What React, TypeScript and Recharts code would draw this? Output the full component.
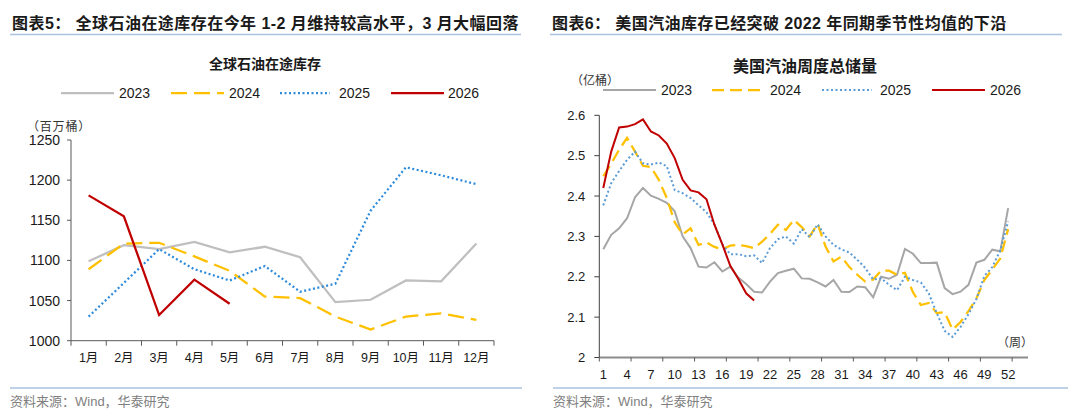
import React from 'react';
import { LineChart, Line, XAxis, YAxis } from 'recharts';

// ---- left panel: global oil on water (million barrels), monthly ----
const MONTHS = ['1月', '2月', '3月', '4月', '5月', '6月', '7月', '8月', '9月', '10月', '11月', '12月'];
const MONTH_NUMS = [1, 2, 3, 4, 5, 6, 7, 8, 9, 10, 11, 12];
const TRANSIT_2023 = [1099, 1119, 1114, 1123, 1110, 1117, 1104, 1048, 1051, 1075, 1074, 1121];
const TRANSIT_2024 = [1089, 1121, 1122, 1105, 1087, 1055, 1053, 1030, 1014, 1030, 1034, 1026];
const TRANSIT_2025 = [1030, 1072, 1114, 1089, 1075, 1093, 1061, 1071, 1162, 1216, 1206, 1195];
const TRANSIT_2026 = [1181, 1155, 1032, 1076, 1046];
const TRANSIT_TICKS = [1000, 1050, 1100, 1150, 1200, 1250];

// ---- right panel: US weekly gasoline stocks (100m barrels) ----
const WEEK_NUMS = Array.from({ length: 52 }, (_, i) => i + 1);
const WEEK_LABELS = [1, 4, 7, 10, 13, 16, 19, 22, 25, 28, 31, 34, 37, 40, 43, 46, 49, 52];
const GAS_2023 = [
  2.268, 2.304, 2.32, 2.345, 2.397, 2.42, 2.401, 2.393, 2.383, 2.362, 2.3, 2.271, 2.225,
  2.223, 2.236, 2.213, 2.225, 2.198, 2.182, 2.163, 2.161, 2.188, 2.209, 2.215, 2.22, 2.196,
  2.195, 2.186, 2.176, 2.192, 2.163, 2.162, 2.176, 2.174, 2.149, 2.2, 2.195, 2.205, 2.269,
  2.257, 2.234, 2.234, 2.235, 2.172, 2.157, 2.163, 2.18, 2.235, 2.242, 2.267, 2.263, 2.37,
];
const GAS_2024 = [
  2.449, 2.48, 2.515, 2.544, 2.51, 2.475, 2.472, 2.44, 2.395, 2.335, 2.305, 2.32, 2.279,
  2.285, 2.274, 2.268, 2.277, 2.279, 2.276, 2.271, 2.287, 2.306, 2.329, 2.316, 2.341, 2.323,
  2.3, 2.331, 2.275, 2.238, 2.25, 2.224, 2.205, 2.188, 2.193, 2.215, 2.215, 2.205, 2.21,
  2.162, 2.13, 2.135, 2.11, 2.112, 2.069, 2.088, 2.115, 2.146, 2.192, 2.218, 2.245, 2.318,
];
const GAS_2025 = [
  2.377, 2.432, 2.462, 2.49, 2.51, 2.481, 2.478, 2.483, 2.474, 2.415, 2.407, 2.395, 2.377,
  2.36, 2.33, 2.28, 2.256, 2.256, 2.251, 2.253, 2.234, 2.271, 2.293, 2.3, 2.282, 2.318,
  2.298, 2.33, 2.3, 2.279, 2.268, 2.26, 2.242, 2.222, 2.193, 2.196, 2.18, 2.167, 2.2,
  2.192, 2.186, 2.159, 2.11, 2.066, 2.051, 2.076, 2.107, 2.145, 2.202, 2.224, 2.265, 2.337,
];
const GAS_2026 = [
  2.42, 2.51, 2.57, 2.572, 2.578, 2.59, 2.56, 2.55, 2.53, 2.494, 2.44, 2.414, 2.409,
  2.392, 2.329, 2.28, 2.227, 2.195, 2.159, 2.141,
];
const GAS_TICKS = [2, 2.1, 2.2, 2.3, 2.4, 2.5, 2.6];

const YEARS = ['2023', '2024', '2025', '2026'];

const SANS = "'Liberation Sans', Arial, 'Noto Sans CJK SC', sans-serif";
const CJK = "'Noto Sans CJK SC', 'Liberation Sans', sans-serif";
const TEXT = '#1a1a1a';
const RULE = '#a9c2df';

const leftStyles = [
  { color: '#bfbfbf', dash: undefined as string | undefined, width: 2.25 },
  { color: '#ffc000', dash: '16 7', width: 2.25 },
  { color: '#2e8bdb', dash: '2 2.5', width: 2.25 },
  { color: '#c00000', dash: undefined as string | undefined, width: 2.25 },
];
const rightStyles = [
  { color: '#a6a6a6', dash: undefined as string | undefined, width: 2 },
  { color: '#ffc000', dash: '12 6', width: 2.25 },
  { color: '#5b9bd5', dash: '2 2.5', width: 2 },
  { color: '#c00000', dash: undefined as string | undefined, width: 2 },
];

const leftData = MONTH_NUMS.map((m, i) => ({
  m,
  y2023: TRANSIT_2023[i],
  y2024: TRANSIT_2024[i],
  y2025: TRANSIT_2025[i],
  y2026: TRANSIT_2026[i],
}));

const rightData = WEEK_NUMS.map((w, i) => ({
  w,
  y2023: GAS_2023[i],
  y2024: GAS_2024[i],
  y2025: GAS_2025[i],
  y2026: GAS_2026[i],
}));

// label ticks sit on category centres, the short marks on category boundaries
const monthTicks = [0.5, ...MONTH_NUMS.flatMap((m) => [m, m + 0.5])];
const weekTicks = [
  ...WEEK_LABELS,
  ...Array.from({ length: 14 }, (_, i) => i * 4 + 0.5),
].sort((a, b) => a - b);

function boundaryTick(
  labelFor: (v: number) => string,
  dy: number,
  fontSize: number,
  fontFamily: string,
  markColor: string,
  markLen: number,
) {
  return (props: any) => {
    const { x, y, payload } = props;
    const v = payload.value as number;
    if (v % 1 !== 0) {
      return <line x1={x} x2={x} y1={y} y2={y + markLen} stroke={markColor} strokeWidth={1} />;
    }
    return (
      <text
        x={x}
        y={y + dy}
        textAnchor="middle"
        dominantBaseline="central"
        fontSize={fontSize}
        fontFamily={fontFamily}
        fill={TEXT}
      >
        {labelFor(v)}
      </text>
    );
  };
}

function LegendRow({
  items,
  y,
  styles,
}: {
  items: { x1: number; x2: number; tx: number }[];
  y: number;
  styles: typeof leftStyles;
}) {
  return (
    <g>
      {YEARS.map((name, i) => (
        <g key={name}>
          <line
            x1={items[i].x1}
            x2={items[i].x2}
            y1={y}
            y2={y}
            stroke={styles[i].color}
            strokeWidth={styles[i].width}
            strokeDasharray={styles[i].dash}
          />
          <text x={items[i].tx} y={y} dominantBaseline="central" fontSize={14} fontFamily={SANS} fill={TEXT}>
            {name}
          </text>
        </g>
      ))}
    </g>
  );
}

export default function App() {
  const seriesKeys = ['y2023', 'y2024', 'y2025', 'y2026'];
  return (
    <div
      style={{
        position: 'absolute',
        left: 0,
        top: 0,
        width: 1080,
        height: 418,
        background: '#fff',
        overflow: 'hidden',
      }}
    >
      {/* left: oil on water */}
      <div style={{ position: 'absolute', left: 0, top: 0 }}>
        <LineChart width={540} height={418} data={leftData} margin={{ top: 140, right: 46, bottom: 0, left: 0 }}>
          <XAxis
            dataKey="m"
            type="number"
            domain={[0.5, 12.5]}
            ticks={monthTicks}
            interval={0}
            height={77.3}
            tickSize={0}
            tickMargin={0}
            tickLine={false}
            axisLine={{ stroke: '#595959', strokeWidth: 1 }}
            tick={boundaryTick((v) => MONTHS[v - 1], 17, 12.5, SANS, '#595959', 5)}
          />
          <YAxis
            domain={[1000, 1250]}
            ticks={TRANSIT_TICKS}
            interval={0}
            width={71}
            tickSize={4}
            tickMargin={7}
            axisLine={{ stroke: '#595959', strokeWidth: 1 }}
            tickLine={{ stroke: '#595959' }}
            tick={{ fontSize: 14, fontFamily: SANS, fill: TEXT }}
          />
          {seriesKeys.map((k, i) => (
            <Line
              key={k}
              dataKey={k}
              type="linear"
              stroke={leftStyles[i].color}
              strokeWidth={leftStyles[i].width}
              strokeDasharray={leftStyles[i].dash}
              dot={false}
              activeDot={false}
              isAnimationActive={false}
            />
          ))}
        </LineChart>
      </div>

      {/* right: US gasoline stocks */}
      <div style={{ position: 'absolute', left: 540, top: 0 }}>
        <LineChart width={540} height={418} data={rightData} margin={{ top: 115.3, right: 52, bottom: 0, left: 0 }}>
          <XAxis
            dataKey="w"
            type="number"
            domain={[0.5, 54.5]}
            ticks={weekTicks}
            interval={0}
            height={60.5}
            tickSize={0}
            tickMargin={0}
            tickLine={false}
            axisLine={{ stroke: '#8c8c8c', strokeWidth: 2 }}
            tick={boundaryTick((v) => String(v), 16.5, 13, "'Liberation Sans Narrow', " + SANS, '#595959', 4)}
          />
          <YAxis
            domain={[2, 2.6]}
            ticks={GAS_TICKS}
            interval={0}
            width={59.3}
            tickSize={5}
            tickMargin={9}
            axisLine={{ stroke: '#404040', strokeWidth: 1 }}
            tickLine={{ stroke: '#404040' }}
            tick={{ fontSize: 13, fontFamily: SANS, fill: TEXT }}
          />
          {seriesKeys.map((k, i) => (
            <Line
              key={k}
              dataKey={k}
              type="linear"
              stroke={rightStyles[i].color}
              strokeWidth={rightStyles[i].width}
              strokeDasharray={rightStyles[i].dash}
              dot={false}
              activeDot={false}
              isAnimationActive={false}
            />
          ))}
        </LineChart>
      </div>

      {/* titles, legends, notes */}
      <svg
        width={1080}
        height={418}
        style={{ position: 'absolute', left: 0, top: 0, pointerEvents: 'none' }}
      >
        <text x={12} y={23} dominantBaseline="central" fontSize={16} fontWeight={700} fontFamily={SANS} fill={TEXT} letterSpacing={0.45}>
          图表5： 全球石油在途库存在今年 1-2 月维持较高水平，3 月大幅回落
        </text>
        <line x1={10} x2={521} y1={34.5} y2={34.5} stroke={RULE} strokeWidth={1.5} />
        <text x={552} y={23} dominantBaseline="central" fontSize={16} fontWeight={700} fontFamily={SANS} fill={TEXT} letterSpacing={0.4}>
          图表6： 美国汽油库存已经突破 2022 年同期季节性均值的下沿
        </text>
        <line x1={550} x2={1062} y1={34.5} y2={34.5} stroke={RULE} strokeWidth={1.5} />

        <text x={265} y={63} textAnchor="middle" dominantBaseline="central" fontSize={14} fontWeight={700} fontFamily={CJK} fill={TEXT}>
          全球石油在途库存
        </text>
        <text x={805} y={65} textAnchor="middle" dominantBaseline="central" fontSize={16} fontWeight={700} fontFamily={CJK} fill={TEXT}>
          美国汽油周度总储量
        </text>

        <LegendRow
          y={93}
          styles={leftStyles}
          items={[
            { x1: 61, x2: 114, tx: 119 },
            { x1: 171, x2: 224, tx: 229 },
            { x1: 280, x2: 330, tx: 339 },
            { x1: 391, x2: 444, tx: 448 },
          ]}
        />
        <LegendRow
          y={90}
          styles={rightStyles}
          items={[
            { x1: 603, x2: 656, tx: 661 },
            { x1: 712, x2: 766, tx: 770 },
            { x1: 822, x2: 872, tx: 880 },
            { x1: 932, x2: 985, tx: 990 },
          ]}
        />

        <text x={27} y={125} dominantBaseline="central" fontSize={12} fontFamily={CJK} fill="#333" letterSpacing={0.8}>
          （百万桶）
        </text>
        <text x={571} y={79} dominantBaseline="central" fontSize={12} fontFamily={CJK} fill="#333">
          （亿桶）
        </text>
        <text x={1015} y={341} textAnchor="middle" dominantBaseline="central" fontSize={12} fontFamily={CJK} fill="#333">
          （周）
        </text>

        <line x1={10} x2={522} y1={388} y2={388} stroke={RULE} strokeWidth={1.5} />
        <line x1={553} x2={1068} y1={388} y2={388} stroke={RULE} strokeWidth={1.5} />
        <text x={10} y={401} dominantBaseline="central" fontSize={13} fontFamily={SANS} fill="#808080">
          资料来源：Wind，华泰研究
        </text>
        <text x={553} y={401} dominantBaseline="central" fontSize={13} fontFamily={SANS} fill="#808080">
          资料来源：Wind，华泰研究
        </text>
      </svg>
    </div>
  );
}
